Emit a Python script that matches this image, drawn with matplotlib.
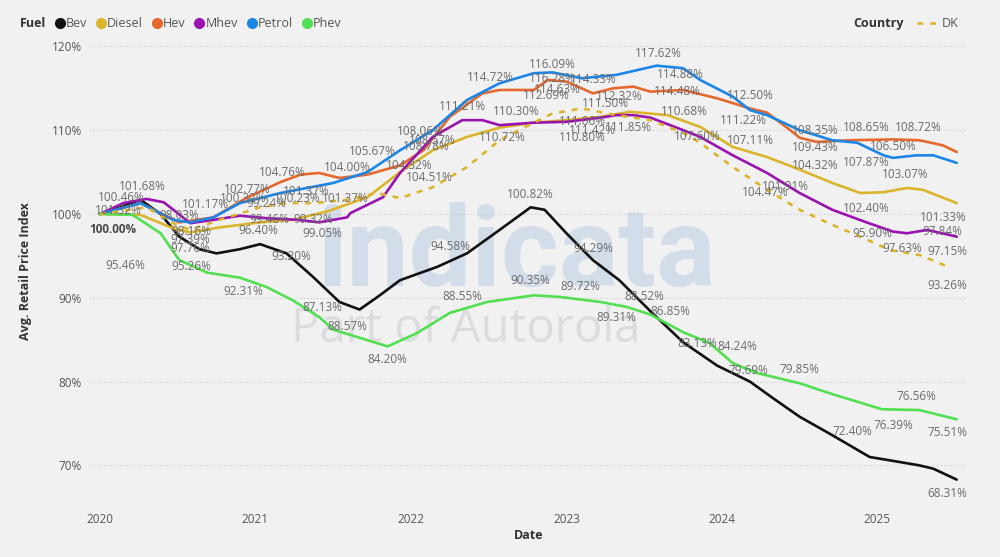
import matplotlib
matplotlib.use("Agg")
import matplotlib.pyplot as plt
from matplotlib.lines import Line2D

plt.rcParams["font.family"] = ["Open Sans", "DejaVu Sans"]

# ---- data (decimal year, index %) ----
bev_x = [2020.00, 2020.13, 2020.26, 2020.39, 2020.51, 2020.64, 2020.75, 2020.90, 2021.03,
         2021.20, 2021.37, 2021.54, 2021.67, 2021.80, 2021.93, 2022.17, 2022.36, 2022.57,
         2022.77, 2022.86, 2023.00, 2023.17, 2023.34, 2023.54, 2023.75, 2023.97, 2024.18,
         2024.33, 2024.50, 2024.71, 2024.95, 2025.08, 2025.27, 2025.36, 2025.51]
bev_y = [100.0, 100.8, 101.7, 100.0, 97.3, 95.8, 95.3, 95.8, 96.4,
         95.3, 92.5, 89.5, 88.6, 90.3, 92.1, 93.7, 95.3, 98.1,
         100.8, 100.5, 97.7, 94.5, 92.1, 88.4, 84.7, 81.9, 80.0,
         78.0, 75.8, 73.6, 71.0, 70.6, 70.0, 69.6, 68.3]

diesel_x = [2020.00, 2020.26, 2020.47, 2020.58, 2020.77, 2021.03, 2021.24, 2021.46, 2021.72,
            2021.93, 2022.14, 2022.36, 2022.57, 2022.79, 2023.00, 2023.22, 2023.41, 2023.65,
            2023.86, 2024.07, 2024.29, 2024.50, 2024.71, 2024.89, 2025.04, 2025.19, 2025.29,
            2025.51]
diesel_y = [100.0, 99.9, 98.3, 97.8, 98.4, 99.0, 99.3, 100.3, 102.0,
            105.0, 107.6, 109.2, 110.3, 110.9, 111.2, 111.6, 112.2, 111.8,
            110.4, 108.0, 106.8, 105.3, 103.7, 102.5, 102.6, 103.1, 102.9,
            101.3]

hev_x = [2020.00, 2020.26, 2020.51, 2020.73, 2020.95, 2021.16, 2021.29, 2021.41, 2021.54,
         2021.72, 2021.93, 2022.08, 2022.25, 2022.46, 2022.57, 2022.79, 2022.88, 2023.00,
         2023.17, 2023.30, 2023.43, 2023.54, 2023.75, 2023.97, 2024.18, 2024.29, 2024.44,
         2024.50, 2024.61, 2024.82, 2025.10, 2025.27, 2025.42, 2025.51]
hev_y = [100.0, 101.3, 99.0, 99.6, 102.0, 103.8, 104.7, 104.9, 104.3,
         104.7, 105.8, 107.6, 111.6, 114.4, 114.8, 114.8, 116.0, 115.8,
         114.4, 115.0, 115.2, 114.6, 114.8, 113.8, 112.6, 112.1, 110.0,
         109.1, 108.6, 108.8, 108.9, 108.8, 108.2, 107.4]

mhev_x = [2020.00, 2020.15, 2020.30, 2020.41, 2020.50, 2020.58, 2020.73, 2020.90, 2021.07,
          2021.27, 2021.41, 2021.59, 2021.61, 2021.82, 2021.93, 2022.14, 2022.33, 2022.46,
          2022.57, 2022.79, 2023.00, 2023.22, 2023.32, 2023.43, 2023.54, 2023.71, 2023.86,
          2024.07, 2024.29, 2024.50, 2024.71, 2024.93, 2025.10, 2025.19, 2025.32, 2025.51]
mhev_y = [100.0, 101.3, 101.8, 101.4, 100.1, 98.9, 99.3, 99.8, 99.5,
          99.3, 99.0, 99.6, 100.1, 102.0, 104.9, 109.2, 111.2, 111.2,
          110.6, 110.9, 111.0, 111.5, 111.8, 111.8, 111.5, 110.3, 109.2,
          107.0, 104.9, 102.5, 100.5, 99.0, 97.9, 97.7, 98.1, 97.3]

petrol_x = [2020.00, 2020.26, 2020.47, 2020.58, 2020.73, 2020.90, 2021.16, 2021.50, 2021.72,
            2021.93, 2022.14, 2022.36, 2022.57, 2022.79, 2022.91, 2023.10, 2023.32, 2023.58,
            2023.75, 2023.86, 2024.07, 2024.18, 2024.29, 2024.50, 2024.71, 2024.87, 2025.04,
            2025.10, 2025.25, 2025.36, 2025.51]
petrol_y = [100.0, 101.3, 99.3, 99.0, 99.6, 101.3, 102.5, 103.7, 105.0,
            107.6, 110.0, 113.6, 115.6, 116.8, 116.9, 116.2, 116.6, 117.7,
            117.4, 116.0, 114.0, 112.4, 111.8, 110.0, 108.8, 108.5, 107.0,
            106.7, 107.0, 107.0, 106.1]

phev_x = [2020.00, 2020.21, 2020.39, 2020.51, 2020.69, 2020.90, 2021.07, 2021.24, 2021.41,
          2021.50, 2021.85, 2022.04, 2022.25, 2022.49, 2022.79, 2022.96, 2023.22, 2023.39,
          2023.54, 2023.75, 2023.92, 2024.07, 2024.23, 2024.50, 2024.71, 2025.03, 2025.27,
          2025.51]
phev_y = [100.0, 99.9, 97.7, 94.5, 93.0, 92.4, 91.3, 89.7, 87.7,
          86.2, 84.2, 85.8, 88.2, 89.5, 90.3, 90.1, 89.5, 88.9,
          88.0, 85.9, 84.6, 82.2, 81.0, 79.8, 78.5, 76.7, 76.6,
          75.5]

dk_x = [2020.00, 2020.30, 2020.47, 2020.58, 2020.77, 2021.03, 2021.20, 2021.37, 2021.59,
        2021.78, 2021.93, 2022.14, 2022.36, 2022.57, 2022.79, 2022.91, 2023.10, 2023.32,
        2023.54, 2023.75, 2023.86, 2024.07, 2024.29, 2024.50, 2024.71, 2024.89, 2025.08,
        2025.27, 2025.47]
dk_y = [100.0, 100.8, 98.9, 98.1, 99.3, 100.8, 101.3, 101.3, 101.7,
        102.5, 101.9, 103.2, 105.6, 108.8, 110.9, 112.0, 112.6, 111.8,
        111.2, 109.7, 108.5, 105.6, 102.9, 100.5, 98.7, 97.3, 95.7,
        95.1, 93.6]

series_names = ["Bev", "Diesel", "Hev", "Mhev", "Petrol", "Phev"]
series_x = [bev_x, diesel_x, hev_x, mhev_x, petrol_x, phev_x]
series_y = [bev_y, diesel_y, hev_y, mhev_y, petrol_y, phev_y]
colors = ["#111111", "#dab52c", "#e5682c", "#9a12b0", "#1c86e6", "#52e052"]

year_ticks = [2020, 2021, 2022, 2023, 2024, 2025]
y_ticks = [70, 80, 90, 100, 110, 120]

# data labels as shown by the dashboard (text, year, index)
label_text = ["101.68%", "100.46%", "101.32%", "98.03%", "98.16%", "97.39%", "97.76%",
              "95.46%", "95.26%", "92.31%", "96.40%", "101.17%", "102.77%", "100.32%",
              "99.24%", "99.46%", "99.32%", "104.76%", "101.37%", "100.23%", "99.05%",
              "93.20%", "87.13%", "88.57%", "84.20%", "104.00%", "101.37%", "105.67%",
              "104.32%", "104.51%", "108.06%", "108.57%", "108.78%", "111.21%", "114.72%",
              "110.30%", "110.72%", "116.09%", "116.28%", "114.63%", "112.69%", "114.33%",
              "112.32%", "111.50%", "111.06%", "110.80%", "111.42%", "111.85%", "117.62%",
              "114.88%", "114.48%", "110.68%", "107.60%", "112.50%", "111.22%", "107.11%",
              "108.35%", "109.43%", "104.32%", "104.47%", "101.91%", "108.65%", "108.72%",
              "106.50%", "107.87%", "103.07%", "102.40%", "101.33%", "97.84%", "95.90%",
              "97.63%", "97.15%", "93.26%", "94.58%", "100.82%", "90.35%", "88.55%",
              "89.72%", "94.29%", "89.31%", "88.52%", "86.85%", "83.13%", "84.24%",
              "79.69%", "79.85%", "76.56%", "76.39%", "72.40%", "75.51%", "68.31%"]
label_x = [2020.27, 2020.14, 2020.12, 2020.51, 2020.59, 2020.58, 2020.58,
           2020.16, 2020.59, 2020.92, 2021.02, 2020.68, 2020.95, 2020.92,
           2021.07, 2021.09, 2021.37, 2021.17, 2021.33, 2021.27, 2021.43,
           2021.23, 2021.43, 2021.59, 2021.85, 2021.59, 2021.58, 2021.75,
           2021.99, 2022.12, 2022.06, 2022.14, 2022.10, 2022.33, 2022.51,
           2022.68, 2022.59, 2022.91, 2022.91, 2022.94, 2022.87, 2023.17,
           2023.34, 2023.25, 2023.10, 2023.10, 2023.17, 2023.40, 2023.59,
           2023.73, 2023.71, 2023.76, 2023.84, 2024.18, 2024.14, 2024.18,
           2024.60, 2024.60, 2024.60, 2024.28, 2024.41, 2024.93, 2025.26,
           2025.10, 2024.93, 2025.18, 2024.93, 2025.42, 2025.42, 2024.97,
           2025.16, 2025.45, 2025.45, 2022.25, 2022.77, 2022.77, 2022.33,
           2023.09, 2023.17, 2023.32, 2023.50, 2023.67, 2023.84, 2024.10,
           2024.17, 2024.50, 2025.25, 2025.10, 2024.84, 2025.45, 2025.45]
label_y = [103.3, 102.0, 100.4, 99.8, 97.9, 96.9, 95.9,
           93.9, 93.7, 90.7, 98.0, 101.1, 102.9, 101.9,
           101.3, 99.3, 99.3, 104.9, 102.7, 101.8, 97.7,
           94.9, 88.8, 86.6, 82.6, 105.6, 101.9, 107.4,
           105.8, 104.4, 109.8, 108.8, 108.0, 112.8, 116.3,
           112.2, 109.1, 117.8, 116.2, 114.8, 114.2, 116.0,
           114.0, 113.2, 111.0, 109.1, 110.0, 110.3, 119.2,
           116.6, 114.6, 112.2, 109.2, 114.1, 111.2, 108.8,
           110.0, 107.9, 105.8, 102.6, 103.3, 110.3, 110.3,
           108.1, 106.1, 104.7, 100.7, 99.6, 97.9, 97.7,
           95.9, 95.5, 91.5, 96.1, 102.3, 92.1, 90.1,
           91.3, 95.9, 87.7, 90.1, 88.4, 84.6, 84.2,
           81.3, 81.4, 78.2, 74.8, 74.0, 73.9, 66.7]

# ---- figure ----
BG = "#f1f1f1"
fig = plt.figure(figsize=(10, 5.57), dpi=100, facecolor=BG)
ax = fig.add_axes([0.09, 0.1013, 0.877, 0.8244], facecolor=BG)

ax.set_xlim(2019.936, 2025.576)
ax.set_ylim(65.8, 120.6)

# watermark
ax.text(2022.68, 95.0, "indicata", fontsize=80, fontweight="bold", color="#d3dde9",
        ha="center", va="center", zorder=0, family=["Roboto", "DejaVu Sans"])
ax.text(2022.35, 86.2, "Part of Autorola", fontsize=34, color="#dcdcdc",
        ha="center", va="center", zorder=0, family=["Open Sans", "DejaVu Sans"])

for name, xs, ys, c in zip(series_names, series_x, series_y, colors):
    ax.plot(xs, ys, color=c, lw=1.9, label=name, zorder=3, solid_capstyle="round")
ax.plot(dk_x, dk_y, color="#dab52c", lw=1.9, ls=(0, (2.2, 2.6)), zorder=3)

for t, x, y in zip(label_text, label_x, label_y):
    ax.text(x, y, t, fontsize=8.5, color="#6b6b6b", ha="center", va="center", zorder=4)
ax.text(2020.08, 98.2, "100.00%", fontsize=8.5, color="#4a4a4a", fontweight="bold",
        ha="center", va="center", zorder=4)

ax.set_yticks(y_ticks)
ax.set_yticklabels([f"{v}%" for v in y_ticks])
ax.set_xticks(year_ticks)
ax.set_xticklabels([str(y) for y in year_ticks])
ax.tick_params(axis="both", length=0, labelsize=8.5, colors="#555555")
ax.tick_params(axis="x", pad=9)
ax.tick_params(axis="y", pad=6)
ax.grid(axis="y", color="#c8c8c8", ls=(0, (1, 2)), lw=0.8)
for s in ax.spines.values():
    s.set_visible(False)

ax.set_xlabel("Date", fontsize=9, fontweight="bold", color="#333333", labelpad=2)
ax.set_ylabel("Avg. Retail Price Index", fontsize=9, fontweight="bold", color="#333333",
              labelpad=14)

# legends
fig.text(0.02, 0.958, "Fuel", fontsize=9, fontweight="bold", color="#333333", va="center")
handles = [Line2D([], [], marker="o", ls="none", color=c, markersize=7) for c in colors]
fig.legend(handles, series_names, loc="center left", bbox_to_anchor=(0.047, 0.958),
           ncol=6, frameon=False, handletextpad=-0.1, columnspacing=0.5,
           fontsize=9, labelcolor="#555555", handlelength=1.2, borderaxespad=0)

fig.text(0.853, 0.958, "Country", fontsize=9, fontweight="bold", color="#333333", va="center")
dk_handle = Line2D([], [], color="#dab52c", lw=1.9, ls=(0, (2.2, 2.6)))
fig.legend([dk_handle], ["DK"], loc="center left", bbox_to_anchor=(0.912, 0.958),
           frameon=False, handlelength=1.8, handletextpad=0.2, fontsize=9,
           labelcolor="#555555", borderaxespad=0)

fig.savefig("out.png", dpi=100, facecolor=BG)
